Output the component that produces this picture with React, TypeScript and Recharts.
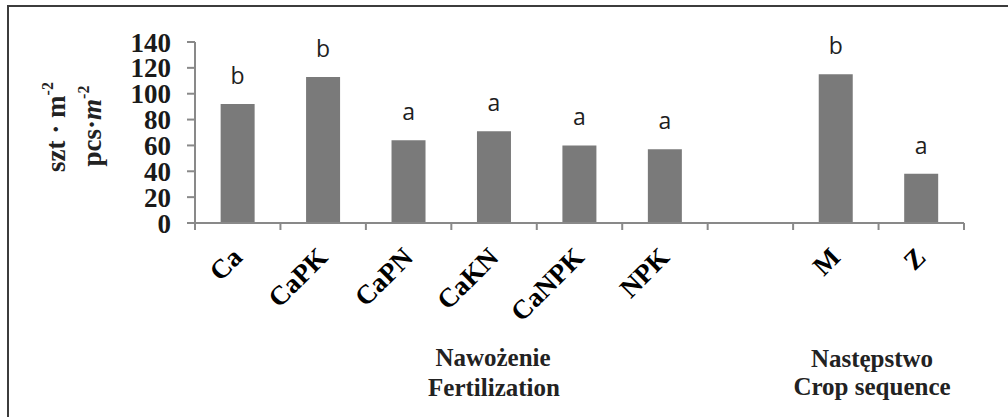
import React from 'react';
import { BarChart, Bar, XAxis, YAxis, LabelList, Label } from 'recharts';

const categories = ['Ca', 'CaPK', 'CaPN', 'CaKN', 'CaNPK', 'NPK', '', 'M', 'Z'];
const values = [92, 113, 64, 71, 60, 57, null, 115, 38];
const letters = ['b', 'b', 'a', 'a', 'a', 'a', '', 'b', 'a'];
const yTicks = [0, 20, 40, 60, 80, 100, 120, 140];

const data = categories.map((c, i) => ({ name: c || ' ', value: values[i], letter: letters[i] }));

const serif = '"Liberation Serif", "Times New Roman", serif';
const axisColor = '#898989';

// category ticks sit on the band edges (Excel style), labels turned -45°
const XTick = (props: any) => {
  const { x, y, payload, index } = props;
  const half = payload && payload.offset ? payload.offset : 42.7;
  const tx = Number(x) + 6;
  const ty = Number(y) + 36;
  return (
    <g>
      <line x1={x - half} y1={y} x2={x - half} y2={y + 7} stroke={axisColor} strokeWidth={2} />
      {index === categories.length - 1 && (
        <line x1={x + half} y1={y} x2={x + half} y2={y + 7} stroke={axisColor} strokeWidth={2} />
      )}
      <text
        x={tx}
        y={ty}
        transform={`rotate(-45, ${tx}, ${ty})`}
        textAnchor="end"
        fontFamily={serif}
        fontWeight="bold"
        fontSize={27}
        fill="#000"
      >
        {String(payload.value).trim()}
      </text>
    </g>
  );
};

const YTitle = () => (
  <g fontFamily={serif} fontWeight="bold" fontSize={27} fill="#222">
    <text x={65} y={127} transform="rotate(-90, 65, 127)" textAnchor="middle">
      szt · m<tspan fontSize={16} dy={-12}>-2</tspan>
    </text>
    <text x={101} y={126} transform="rotate(-90, 101, 126)" textAnchor="middle">
      pcs·<tspan fontStyle="italic">m</tspan>
      <tspan fontSize={16} dy={-12}>-2</tspan>
    </text>
  </g>
);

export default function App() {
  return (
    <div style={{ position: 'absolute', left: 0, top: 0, width: 1008, height: 417, overflow: 'hidden', background: '#fff' }}>
      <div
        style={{
          position: 'absolute',
          left: 7,
          top: 5,
          width: 1020,
          height: 430,
          borderLeft: '2px solid #3c3c3c',
          borderTop: '2px solid #3c3c3c',
        }}
      />
      <div style={{ position: 'absolute', left: 0, top: 0 }}>
        <BarChart width={1008} height={417} data={data} margin={{ top: 42, right: 44, left: 0, bottom: 0 }} barCategoryGap="30%">
          <XAxis
            dataKey="name"
            height={194}
            interval={0}
            tickLine={false}
            tickSize={0}
            tickMargin={0}
            stroke={axisColor}
            strokeWidth={2}
            tick={<XTick />}
          />
          <YAxis
            width={195}
            domain={[0, 140]}
            ticks={yTicks}
            interval={0}
            tickSize={8}
            tickMargin={16}
            stroke={axisColor}
            strokeWidth={2}
            tick={{ fontFamily: serif, fontWeight: 'bold', fontSize: 27, fill: '#1a1a1a' }}
          >
            <Label content={<YTitle />} />
          </YAxis>
          <Bar dataKey="value" fill="#7a7a7a" isAnimationActive={false}>
            <LabelList
              dataKey="letter"
              position="top"
              offset={20}
              style={{ fontFamily: '"Open Sans", Lato, sans-serif', fontSize: 23, fill: '#1e1e1e' }}
            />
          </Bar>
        </BarChart>
      </div>
      <svg width={1008} height={417} style={{ position: 'absolute', left: 0, top: 0, pointerEvents: 'none' }}>
        <g fontFamily={serif} fontWeight="bold" fontSize={25} fill="#222" textAnchor="middle">
          <text x={493} y={366}>Nawożenie</text>
          <text x={494} y={396}>Fertilization</text>
          <text x={872} y={367}>Następstwo</text>
          <text x={872} y={395}>Crop sequence</text>
        </g>
      </svg>
    </div>
  );
}
